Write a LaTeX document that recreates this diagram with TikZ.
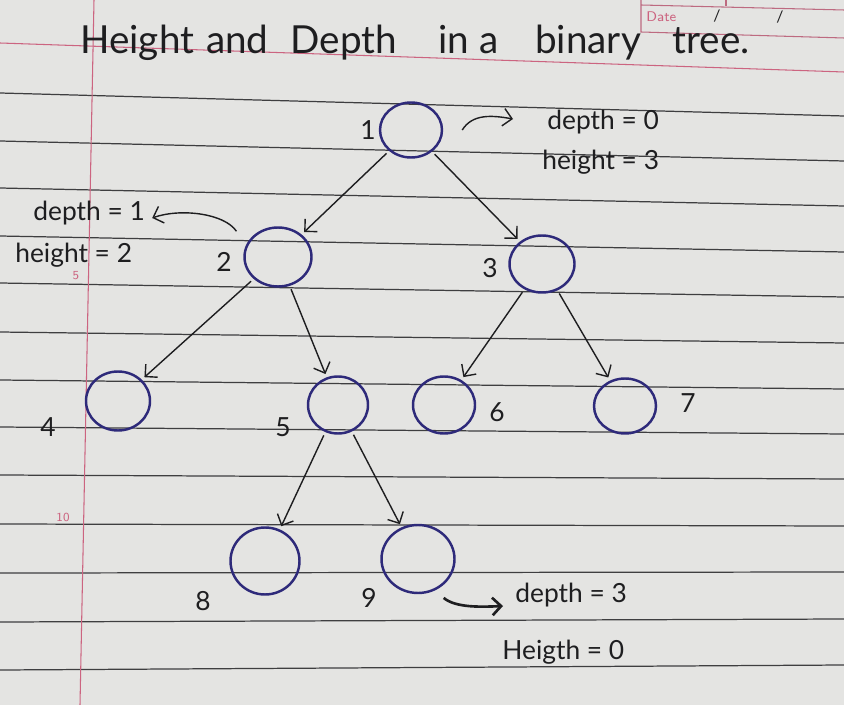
\documentclass[tikz,border=0pt]{standalone}
\usepackage{fontspec}
\setmainfont{Lato}
\usetikzlibrary{arrows.meta, shapes.geometric}

\definecolor{paper}{RGB}{228,228,226}
\definecolor{rule}{RGB}{62,62,64}
\definecolor{margin}{RGB}{204,100,128}
\definecolor{ink}{RGB}{46,42,122}
\definecolor{pencil}{RGB}{30,30,32}

\tikzset{
  vertex/.style = {ellipse, draw=ink, line width=1.4pt, inner sep=0pt},
  edge/.style = {draw=pencil, line width=0.8pt, shorten <=2pt, shorten >=2pt,
    -{Straight Barb[length=5pt, width=10pt]}},
  note/.style = {draw=pencil, line width=0.8pt,
    -{Straight Barb[length=5pt, width=10pt]}},
  hand/.style = {text=pencil, inner sep=0pt, font=\fontsize{15}{18}\selectfont},
  pageno/.style = {text=margin, inner sep=0pt, font=\sffamily\fontsize{7}{8}\selectfont},
}

\begin{document}
\begin{tikzpicture}[x=0.02cm, y=-0.02cm]
  % the page
  \fill[paper] (0,0) rectangle (844,705);
  \useasboundingbox (0,0) rectangle (844,705);
  \foreach \yl/\yr in {93/116, 141/161, 188/206, 236/252, 283/297, 332/343,
      380/389, 427/434, 475/479, 524/526, 573/572, 622/619, 670/665}
    \draw[rule, line width=0.7pt] (0,\yl) -- (844,\yr);
  \draw[margin, line width=0.6pt] (0,43) -- (844,72);
  \draw[margin, line width=0.6pt] (94,0) -- (80,705);
  \node[pageno] (pg5) at (76,276) {5};
  \node[pageno] (pg10) at (63,517) {10};

  % date box
  \draw[margin!80!gray, line width=0.6pt] (641,0) -- (641,32) -- (844,38);
  \draw[margin!80!gray, line width=0.6pt] (641,5) -- (844,10);
  \draw[margin!80!gray, line width=0.6pt] (726,0) -- (726,6);
  \node[pageno, anchor=west, font=\sffamily\fontsize{8}{9}\selectfont] (date) at (646,17) {Date};
  \node[hand, font=\fontsize{9}{10}\selectfont] (sl1) at (717,16) {/};
  \node[hand, font=\fontsize{9}{10}\selectfont] (sl2) at (780,17) {/};

  % title
  \node[hand, anchor=base west, font=\fontsize{22}{26}\selectfont] (title) at (80,54)
    {Height\hspace{6.7pt}and\hspace{12.6pt}Depth\hspace{23.7pt}in\hspace{5.5pt}a\hspace{21pt}binary\hspace{18pt}tree.};

  % tree
  \foreach \n/\x/\y/\w/\h in {1/411/130/62/55, 2/278/257/67/59, 3/542/264/65/57,
      4/118/401/64/59, 5/338/405/60/57, 6/444/405/62/57, 7/625/406/62/55,
      8/265/561/69/67, 9/418/559/73/68}
    \node[vertex, minimum width=\w*0.02cm, minimum height=\h*0.02cm] (n\n) at (\x,\y) {};

  \foreach \a/\b in {1/2, 1/3, 2/4, 2/5, 3/6, 3/7, 5/8, 5/9}
    \draw[edge] (n\a) -- (n\b);

  \node[hand] (l1) at (368,130) {1};
  \node[hand] (l2) at (224,262) {2};
  \node[hand] (l3) at (490,268) {3};
  \node[hand] (l4) at (48,427) {4};
  \node[hand] (l5) at (283,427) {5};
  \node[hand] (l6) at (497,412) {6};
  \node[hand] (l7) at (688,403) {7};
  \node[hand] (l8) at (203,601) {8};
  \node[hand] (l9) at (369,598) {9};

  % depth and height notes
  \node[hand, anchor=west] (d0) at (547,122) {depth = 0};
  \node[hand, anchor=west] (h3) at (542,162) {height = 3};
  \node[hand, anchor=west] (d1) at (33,213) {depth = 1};
  \node[hand, anchor=west] (h2) at (15,255) {height = 2};
  \node[hand, anchor=west] (d3) at (515,595) {depth = 3};
  \node[hand, anchor=west] (h0) at (502,652) {Heigth = 0};

  \draw[note] ([shift={(19,0)}]n1.east) .. controls +(10,-16) and +(-22,-4) .. ([shift={(-34,-3)}]d0.west);
  \draw[note] ([shift={(-17,-4)}]n2.north west) .. controls +(-12,-18) and +(28,-10) .. ([shift={(7,5)}]d1.east);
  \draw[note, line width=1.5pt] ([shift={(-1,14)}]n9.south east) .. controls +(12,10) and +(-22,1) .. ([shift={(-12,11)}]d3.west);
\end{tikzpicture}
\end{document}
